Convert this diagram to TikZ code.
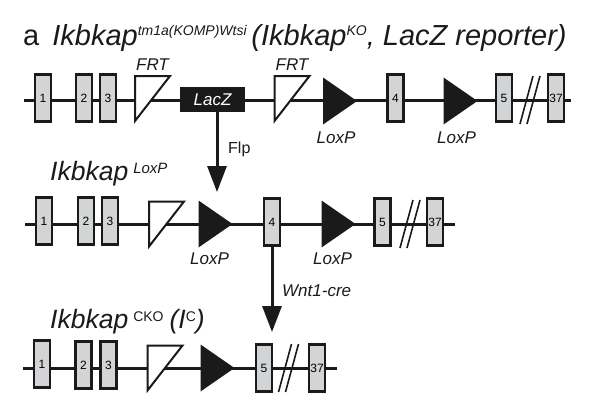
\documentclass[tikz,border=0pt]{standalone}
\usepackage{fontspec}
\setmainfont{Liberation Sans}
\usepackage{tikz}
\usetikzlibrary{arrows.meta,positioning,calc,backgrounds}
\definecolor{exongray}{RGB}{211,212,214}
\definecolor{ink}{RGB}{26,26,26}
\tikzset{
  exonbox/.style={draw=ink, line width=2.6pt, fill=exongray, minimum width=16pt,
    minimum height=47pt, inner sep=0pt, font=\fontsize{12}{12}\selectfont},
  sitebox/.style={inner sep=0pt, outer sep=0pt, minimum width=35pt, minimum height=45pt},
  loxbox/.style={inner sep=0pt, outer sep=0pt, minimum width=34pt, minimum height=47pt},
  brkbox/.style={inner sep=0pt, outer sep=0pt, minimum width=20pt, minimum height=48pt},
  frtline/.style={draw=ink, line width=2pt, fill=white},
  loxpfill/.style={fill=ink},
  laczbox/.style={fill=ink, text=white, minimum width=65pt, minimum height=25pt,
    inner sep=0pt, font=\itshape\fontsize{17}{17}\selectfont},
  dna/.style={draw=ink, line width=3pt},
  brkline/.style={draw=ink, line width=1.6pt},
  flow/.style={draw=ink, -{Triangle[length=26pt,width=19pt]}, line width=3pt},
  tag/.style={inner sep=0pt, text=ink, font=\itshape\fontsize{17}{17}\selectfont},
  heading/.style={inner sep=0pt, anchor=base west, text=ink}
}
\newcommand{\frt}[1]{\draw[frtline] (#1.north west) -- (#1.north east) -- (#1.south west) -- cycle;}
\newcommand{\loxp}[1]{\fill[loxpfill] (#1.north west) -- (#1.east) -- (#1.south west) -- cycle;}
\newcommand{\brk}[1]{\draw[brkline] (#1.south west) -- ($(#1.north west)+(13,0)$);
  \draw[brkline] ($(#1.south west)+(7,0)$) -- (#1.north east);}

\begin{document}
\begin{tikzpicture}[x=1pt, y=-1pt]
\useasboundingbox (0,0) rectangle (590,410);

% titles
\node[heading, font=\fontsize{29}{29}\selectfont] (t1) at (23,45)
  {a\hspace{13pt}\textit{Ikbkap\raisebox{9.5pt}{\fontsize{14}{14}\selectfont tm1a(KOMP)Wtsi}\,(Ikbkap\raisebox{9.5pt}{\fontsize{14}{14}\selectfont KO}, LacZ reporter)}};
\node[heading, font=\fontsize{26.5}{26.5}\selectfont] (t2) at (50,180)
  {\textit{Ikbkap}\hspace{5pt}\raisebox{7pt}{\fontsize{15}{15}\selectfont\itshape LoxP}};
\node[heading, font=\fontsize{26.5}{26.5}\selectfont] (t3) at (50,328)
  {\textit{Ikbkap}\hspace{5pt}\raisebox{7pt}{\fontsize{14}{14}\selectfont CKO}\hspace{6pt}\textit{(I}\raisebox{7pt}{\fontsize{14}{14}\selectfont C}\textit{)}};

% row 1: KO allele
\coordinate (r1a) at (24,100);
\coordinate (r1b) at (571,100);
\node[exonbox] (a1) at (43,98) {1};
\node[exonbox] (a2) at (84,98) {2};
\node[exonbox] (a3) at (108,98) {3};
\node[sitebox] (af1) at (152.5,98.5) {};
\node[laczbox] (lacz) at (212.5,99.5) {LacZ};
\node[sitebox] (af2) at (292,98.5) {};
\node[loxbox] (al1) at (340,101) {};
\node[exonbox] (a4) at (395.5,98) {4};
\node[loxbox] (al2) at (460.5,101) {};
\node[exonbox] (a5) at (504,98) {5};
\node[brkbox] (abrk) at (530,100) {};
\node[exonbox] (a37) at (556,98) {37};
\frt{af1} \frt{af2} \loxp{al1} \loxp{al2} \brk{abrk}
\node[tag, above=5pt of af1] (af1t) {FRT};
\node[tag, above=5pt of af2] (af2t) {FRT};
\node[tag, below=7pt of al1, xshift=-4pt] (al1t) {LoxP};
\node[tag, below=7pt of al2, xshift=-4pt] (al2t) {LoxP};

% row 2: LoxP allele
\coordinate (r2a) at (25,224);
\coordinate (r2b) at (455,224);
\node[exonbox] (b1) at (44,221) {1};
\node[exonbox] (b2) at (86,221) {2};
\node[exonbox] (b3) at (110,221) {3};
\node[sitebox] (bf) at (166.5,224) {};
\node[loxbox] (bl1) at (215.5,224) {};
\node[exonbox] (b4) at (272,222) {4};
\node[loxbox] (bl2) at (338.5,224) {};
\node[exonbox] (b5) at (382.5,222) {5};
\node[brkbox] (bbrk) at (410,224) {};
\node[exonbox] (b37) at (435,222) {37};
\frt{bf} \loxp{bl1} \loxp{bl2} \brk{bbrk}
\node[tag, below=5pt of bl1, xshift=-6pt] (bl1t) {LoxP};
\node[tag, below=5pt of bl2, xshift=-6pt] (bl2t) {LoxP};

% row 3: conditional KO
\coordinate (r3a) at (23,368);
\coordinate (r3b) at (337,368);
\node[exonbox] (c1) at (42,364) {1};
\node[exonbox] (c2) at (83.5,365) {2};
\node[exonbox] (c3) at (108.5,365) {3};
\node[sitebox] (cf) at (165,368) {};
\node[loxbox] (cl) at (217.5,368) {};
\node[exonbox] (c5) at (264,368) {5};
\node[brkbox] (cbrk) at (288.5,368) {};
\node[exonbox] (c37) at (317,368) {37};
\frt{cf} \loxp{cl} \brk{cbrk}

% recombination steps
\coordinate (flpend) at (217,192);
\coordinate (wntend) at (272,332);
\draw[flow] (lacz.south -| flpend) -- (flpend);
\draw[flow] (b4.south) -- (wntend);
\node[tag, font=\fontsize{16}{16}\selectfont, anchor=base west] (flpt) at (228,153) {Flp};
\node[tag, anchor=base west] (wntt) at (282,296) {Wnt1-cre};

\begin{scope}[on background layer]
\draw[dna] (r1a) -- (r1b);
\draw[dna] (r2a) -- (r2b);
\draw[dna] (r3a) -- (r3b);
\end{scope}
\end{tikzpicture}
\end{document}
